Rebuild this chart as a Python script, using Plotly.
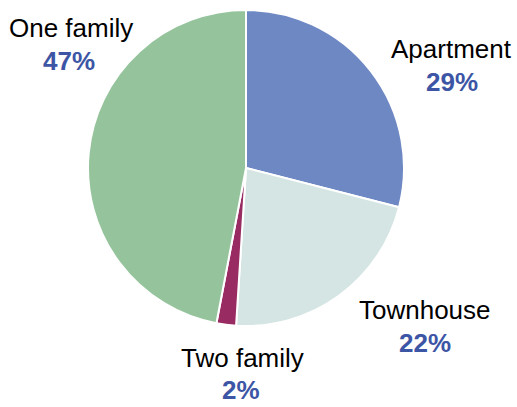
import plotly.graph_objects as go

categories = ["Apartment", "Townhouse", "Two family", "One family"]
values = [29, 22, 2, 47]
pct_labels = ["29%", "22%", "2%", "47%"]
colors = ["#6e88c4", "#d4e5e3", "#992b63", "#95c49c"]

W, H = 517, 407
cx, cy, r = 246, 168, 158

fig = go.Figure(go.Pie(
    labels=categories, values=values, sort=False, direction="clockwise", rotation=0,
    marker=dict(colors=colors, line=dict(color="white", width=2)),
    textinfo="none", hoverinfo="label+percent",
    domain=dict(x=[(cx - r) / W, (cx + r) / W], y=[1 - (cy + r) / H, 1 - (cy - r) / H]),
))

# label positions (pixels) for name and percentage
label_pos = {
    "Apartment": ((451, 49), (452, 82)),
    "Townhouse": ((425, 310), (425, 343)),
    "Two family": ((242, 358), (241, 390)),
    "One family": ((71, 28), (69, 61)),
}
ann = []
for cat, pct in zip(categories, pct_labels):
    (nx, ny), (px, py) = label_pos[cat]
    ann.append(dict(x=nx / W, y=1 - ny / H, xref="paper", yref="paper", text=cat,
                    showarrow=False, xanchor="center", yanchor="middle",
                    font=dict(family="Liberation Sans, Arial", size=26, color="#000000")))
    ann.append(dict(x=px / W, y=1 - py / H, xref="paper", yref="paper", text="<b>" + pct + "</b>",
                    showarrow=False, xanchor="center", yanchor="middle",
                    font=dict(family="Liberation Sans, Arial", size=26, color="#3c55a5")))

fig.update_layout(
    width=W, height=H, margin=dict(l=0, r=0, t=0, b=0),
    paper_bgcolor="white", plot_bgcolor="white", showlegend=False,
    annotations=ann,
)
fig.write_html("out.html", config={"displayModeBar": False},
               post_script="document.body.style.margin='0';document.body.style.overflow='hidden';")
